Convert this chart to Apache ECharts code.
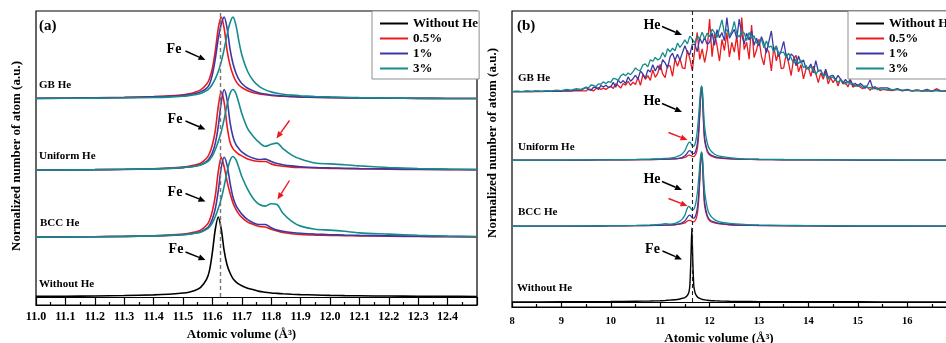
<!DOCTYPE html>
<html><head><meta charset="utf-8">
<script src="https://cdn.jsdelivr.net/npm/echarts@6.0.0/dist/echarts.min.js"></script>
<style>html,body{margin:0;padding:0;background:#fff}#c{width:946px;height:343px}</style>
</head><body><div id="c"></div>
<script>
// ---------- Panel (a) data ----------
const X_A = [11.0, 11.1, 11.2, 11.3, 11.4, 11.45, 11.5, 11.52, 11.54, 11.56,
  11.58, 11.59, 11.6, 11.61, 11.62, 11.63, 11.64, 11.65, 11.66, 11.67,
  11.68, 11.69, 11.7, 11.72, 11.74, 11.76, 11.78, 11.8, 11.82, 11.84,
  11.87, 11.9, 11.95, 12.0, 12.05, 12.1, 12.2, 12.3, 12.4, 12.5];
const A_NONE = [0.008, 0.01, 0.013, 0.018, 0.027, 0.035, 0.05, 0.06, 0.08, 0.12,
  0.22, 0.33, 0.56, 0.85, 1.0, 0.85, 0.58, 0.4, 0.3, 0.23,
  0.19, 0.16, 0.14, 0.11, 0.09, 0.07, 0.06, 0.05, 0.045, 0.04,
  0.034, 0.03, 0.025, 0.02, 0.017, 0.015, 0.012, 0.01, 0.008, 0.007];
const A_GB_R = [0.005, 0.008, 0.012, 0.017, 0.027, 0.035, 0.05, 0.06, 0.08, 0.11,
  0.18, 0.25, 0.38, 0.6, 0.88, 1.02, 0.88, 0.6, 0.42, 0.3,
  0.22, 0.17, 0.14, 0.1, 0.075, 0.06, 0.05, 0.04, 0.034, 0.03,
  0.025, 0.02, 0.016, 0.013, 0.01, 0.009, 0.006, 0.004, 0.003, 0.002];
const A_GB_B = [0.004, 0.006, 0.009, 0.014, 0.022, 0.028, 0.04, 0.048, 0.062, 0.085,
  0.13, 0.18, 0.3, 0.5, 0.75, 0.93, 1.02, 0.88, 0.62, 0.44,
  0.32, 0.24, 0.19, 0.13, 0.095, 0.072, 0.058, 0.047, 0.039, 0.033,
  0.027, 0.022, 0.017, 0.014, 0.011, 0.009, 0.006, 0.004, 0.003, 0.002];
const A_GB_T = [0.003, 0.005, 0.007, 0.01, 0.015, 0.02, 0.03, 0.038, 0.05, 0.065,
  0.1, 0.13, 0.18, 0.25, 0.34, 0.46, 0.62, 0.8, 0.95, 1.02,
  0.92, 0.72, 0.55, 0.34, 0.22, 0.15, 0.11, 0.085, 0.068, 0.056,
  0.045, 0.037, 0.028, 0.022, 0.017, 0.013, 0.008, 0.005, 0.003, 0.002];
const A_UN_R = [0.003, 0.005, 0.008, 0.012, 0.02, 0.028, 0.04, 0.05, 0.065, 0.09,
  0.15, 0.21, 0.32, 0.5, 0.8, 0.98, 0.85, 0.55, 0.35, 0.27,
  0.23, 0.2, 0.18, 0.14, 0.12, 0.11, 0.11, 0.08, 0.06, 0.05,
  0.04, 0.035, 0.028, 0.024, 0.02, 0.018, 0.014, 0.01, 0.008, 0.006];
const A_UN_B = [0.003, 0.004, 0.007, 0.01, 0.017, 0.023, 0.033, 0.04, 0.05, 0.07,
  0.11, 0.15, 0.22, 0.34, 0.55, 0.85, 1.01, 0.88, 0.6, 0.42,
  0.32, 0.27, 0.23, 0.18, 0.15, 0.135, 0.14, 0.11, 0.085, 0.07,
  0.055, 0.045, 0.035, 0.03, 0.026, 0.022, 0.017, 0.013, 0.01, 0.008];
const A_UN_T = [0.003, 0.005, 0.008, 0.012, 0.018, 0.024, 0.033, 0.04, 0.05, 0.065,
  0.1, 0.13, 0.18, 0.26, 0.36, 0.48, 0.64, 0.82, 0.96, 1.01,
  0.96, 0.84, 0.71, 0.52, 0.42, 0.345, 0.3, 0.325, 0.34, 0.27,
  0.19, 0.14, 0.09, 0.08, 0.07, 0.055, 0.035, 0.022, 0.015, 0.01];
const A_BCC_R = [0.003, 0.005, 0.008, 0.012, 0.02, 0.028, 0.04, 0.05, 0.065, 0.09,
  0.15, 0.21, 0.33, 0.52, 0.82, 1.0, 0.88, 0.7, 0.55, 0.43,
  0.35, 0.29, 0.25, 0.19, 0.16, 0.135, 0.13, 0.1, 0.08, 0.06,
  0.045, 0.035, 0.028, 0.024, 0.02, 0.018, 0.014, 0.01, 0.008, 0.006];
const A_BCC_B = [0.003, 0.004, 0.007, 0.01, 0.017, 0.023, 0.033, 0.04, 0.05, 0.07,
  0.11, 0.15, 0.23, 0.36, 0.58, 0.87, 1.0, 0.9, 0.68, 0.5,
  0.4, 0.34, 0.29, 0.22, 0.18, 0.16, 0.16, 0.12, 0.09, 0.075,
  0.06, 0.05, 0.04, 0.033, 0.028, 0.024, 0.018, 0.013, 0.01, 0.008];
const A_BCC_T = [0.003, 0.005, 0.008, 0.012, 0.018, 0.024, 0.033, 0.04, 0.05, 0.065,
  0.1, 0.13, 0.18, 0.26, 0.36, 0.48, 0.64, 0.82, 0.96, 1.01,
  0.97, 0.87, 0.76, 0.6, 0.48, 0.41, 0.39, 0.42, 0.41, 0.3,
  0.2, 0.14, 0.1, 0.09, 0.075, 0.055, 0.04, 0.025, 0.015, 0.01];
// vertical offsets of the stacked groups: Without He, BCC He, Uniform He, GB He
const OFFSETS_A = [0, 0.746, 1.584, 2.479];

// ---------- Panel (b) data ----------
const X_B = [8.0, 9.0, 9.5, 10.0, 10.5, 10.8, 11.0, 11.1, 11.2, 11.3,
  11.4, 11.45, 11.5, 11.52, 11.54, 11.56, 11.58, 11.6, 11.62, 11.64,
  11.66, 11.68, 11.7, 11.72, 11.74, 11.76, 11.78, 11.8, 11.82, 11.84,
  11.86, 11.88, 11.9, 11.95, 12.0, 12.1, 12.2, 12.4, 12.7, 13.0,
  13.5, 14.0, 15.0, 16.0, 17.0, 18.0];
const B_NONE = [0, 0.002, 0.004, 0.006, 0.01, 0.013, 0.016, 0.02, 0.025, 0.03,
  0.04, 0.05, 0.06, 0.07, 0.08, 0.1, 0.13, 0.22, 0.55, 1.0,
  0.55, 0.22, 0.14, 0.1, 0.08, 0.065, 0.055, 0.048, 0.042, 0.038,
  0.034, 0.031, 0.028, 0.024, 0.02, 0.016, 0.013, 0.01, 0.007, 0.005,
  0.004, 0.003, 0.002, 0.001, 0.001, 0];
const B_UN_R = [0, 0.002, 0.003, 0.005, 0.007, 0.009, 0.011, 0.013, 0.015, 0.018,
  0.025, 0.03, 0.038, 0.045, 0.055, 0.065, 0.07, 0.07, 0.065, 0.055,
  0.05, 0.05, 0.06, 0.08, 0.12, 0.2, 0.35, 0.6, 0.88, 1.0,
  0.78, 0.45, 0.26, 0.12, 0.07, 0.04, 0.03, 0.02, 0.013, 0.01,
  0.007, 0.005, 0.003, 0.002, 0.001, 0];
const B_UN_B = [0, 0.002, 0.003, 0.005, 0.008, 0.01, 0.012, 0.014, 0.017, 0.02,
  0.03, 0.04, 0.06, 0.075, 0.09, 0.11, 0.125, 0.13, 0.12, 0.1,
  0.09, 0.09, 0.1, 0.13, 0.18, 0.27, 0.42, 0.65, 0.9, 1.0,
  0.82, 0.5, 0.3, 0.14, 0.085, 0.05, 0.035, 0.022, 0.014, 0.01,
  0.007, 0.005, 0.003, 0.002, 0.001, 0];
const B_UN_T = [0, 0.003, 0.005, 0.008, 0.012, 0.016, 0.02, 0.025, 0.03, 0.04,
  0.065, 0.09, 0.13, 0.16, 0.19, 0.22, 0.24, 0.245, 0.23, 0.2,
  0.19, 0.19, 0.21, 0.26, 0.34, 0.46, 0.62, 0.8, 0.95, 1.0,
  0.9, 0.65, 0.45, 0.24, 0.15, 0.08, 0.055, 0.035, 0.02, 0.015,
  0.01, 0.008, 0.005, 0.003, 0.002, 0.001];
const B_BCC_R = [0, 0.002, 0.003, 0.005, 0.008, 0.01, 0.013, 0.015, 0.017, 0.02,
  0.028, 0.035, 0.045, 0.055, 0.065, 0.075, 0.08, 0.08, 0.075, 0.065,
  0.06, 0.06, 0.07, 0.09, 0.13, 0.21, 0.36, 0.6, 0.88, 1.0,
  0.8, 0.47, 0.27, 0.13, 0.075, 0.045, 0.032, 0.02, 0.013, 0.01,
  0.007, 0.005, 0.003, 0.002, 0.001, 0];
const B_BCC_B = [0, 0.002, 0.003, 0.005, 0.008, 0.011, 0.014, 0.016, 0.019, 0.024,
  0.035, 0.05, 0.07, 0.09, 0.11, 0.13, 0.145, 0.15, 0.14, 0.12,
  0.11, 0.11, 0.12, 0.15, 0.2, 0.29, 0.44, 0.66, 0.9, 1.0,
  0.83, 0.52, 0.32, 0.15, 0.09, 0.055, 0.038, 0.024, 0.015, 0.011,
  0.008, 0.005, 0.003, 0.002, 0.001, 0];
const B_BCC_T = [0, 0.003, 0.005, 0.008, 0.012, 0.018, 0.025, 0.035, 0.03, 0.04,
  0.07, 0.1, 0.15, 0.19, 0.23, 0.26, 0.27, 0.26, 0.24, 0.225,
  0.22, 0.23, 0.26, 0.31, 0.39, 0.5, 0.65, 0.82, 0.96, 1.0,
  0.9, 0.66, 0.47, 0.26, 0.16, 0.09, 0.06, 0.04, 0.025, 0.018,
  0.012, 0.009, 0.006, 0.004, 0.002, 0.001];

// GB He in panel (b): broad noisy distribution
const X_B_GB = [8.0, 8.1, 8.2, 8.3, 8.4, 8.5, 8.6, 8.7, 8.8, 8.9, 9.0, 9.1, 9.2, 9.3, 9.4,
  9.5, 9.55, 9.6, 9.65, 9.7, 9.75, 9.8, 9.85, 9.9, 9.95,
  10.0, 10.05, 10.1, 10.15, 10.2, 10.25, 10.3, 10.35, 10.4, 10.45,
  10.5, 10.55, 10.6, 10.65, 10.7, 10.75, 10.8, 10.85, 10.9, 10.95,
  11.0, 11.05, 11.1, 11.15, 11.2, 11.25, 11.3, 11.35, 11.4, 11.45,
  11.5, 11.55, 11.6, 11.65, 11.7, 11.75, 11.8, 11.85, 11.9, 11.95,
  12.0, 12.05, 12.1, 12.15, 12.2, 12.25, 12.3, 12.35, 12.4, 12.45,
  12.5, 12.55, 12.6, 12.65, 12.7, 12.75, 12.8, 12.85, 12.9, 12.95,
  13.0, 13.05, 13.1, 13.15, 13.2, 13.25, 13.3, 13.35, 13.4, 13.45,
  13.5, 13.55, 13.6, 13.65, 13.7, 13.75, 13.8, 13.85, 13.9, 13.95,
  14.0, 14.05, 14.1, 14.15, 14.2, 14.25, 14.3, 14.35, 14.4, 14.45,
  14.5, 14.55, 14.6, 14.65, 14.7, 14.75, 14.8, 14.85, 14.9, 14.95,
  15.0, 15.05, 15.1, 15.15, 15.2, 15.25, 15.3, 15.35, 15.4, 15.45,
  15.5, 15.6, 15.7, 15.8, 15.9, 16.0, 16.1, 16.2, 16.3, 16.4, 16.5, 16.6, 16.7, 16.8, 16.9, 17.0];
const B_GB_T = [0, 0.005, 0, 0.01, 0.005, 0.01, 0.005, 0.015, 0.01, 0.02, 0.015, 0.03, 0.02, 0.04, 0.03,
  0.062, 0.052, 0.09, 0.084, 0.069, 0.105, 0.101, 0.133, 0.108, 0.136,
  0.125, 0.179, 0.173, 0.153, 0.213, 0.24, 0.216, 0.252, 0.229, 0.271,
  0.32, 0.291, 0.288, 0.363, 0.374, 0.335, 0.431, 0.41, 0.462, 0.427,
  0.453, 0.529, 0.466, 0.58, 0.539, 0.587, 0.552, 0.655, 0.598, 0.646,
  0.699, 0.644, 0.75, 0.708, 0.658, 0.753, 0.717, 0.804, 0.716, 0.79,
  0.742, 0.845, 0.798, 0.732, 0.85, 0.97, 0.787, 0.84, 0.752, 0.815,
  0.95, 0.78, 0.737, 0.818, 0.793, 0.692, 0.8, 0.722, 0.755, 0.657,
  0.66, 0.706, 0.593, 0.684, 0.603, 0.616, 0.531, 0.62, 0.509, 0.527,
  0.533, 0.458, 0.52, 0.456, 0.386, 0.438, 0.379, 0.425, 0.322, 0.357,
  0.297, 0.341, 0.295, 0.234, 0.287, 0.29, 0.216, 0.233, 0.168, 0.194,
  0.197, 0.154, 0.129, 0.155, 0.139, 0.098, 0.139, 0.102, 0.113, 0.075,
  0.074, 0.089, 0.054, 0.078, 0.053, 0.058, 0.033, 0.065, 0.032, 0.037,
  0.035, 0.03, 0.025, 0.03, 0.02, 0.02, 0.015, 0.02, 0.01, 0.015, 0.01, 0.01, 0.008, 0.01, 0.005, 0.005];
const B_GB_B = [0, 0.003, 0, 0.005, 0.002, 0.006, 0.003, 0.008, 0.004, 0.01, 0.008, 0.015, 0.01, 0.025, 0.02,
  0.057, 0.029, 0.019, 0.06, 0.059, 0.028, 0.084, 0.062, 0.088, 0.06,
  0.065, 0.125, 0.06, 0.155, 0.115, 0.15, 0.11, 0.2, 0.14, 0.175,
  0.222, 0.167, 0.28, 0.239, 0.184, 0.295, 0.266, 0.363, 0.278, 0.351,
  0.295, 0.432, 0.389, 0.319, 0.469, 0.52, 0.423, 0.506, 0.427, 0.528,
  0.62, 0.53, 0.5, 0.64, 0.64, 0.54, 0.725, 0.65, 0.735, 0.64,
  0.664, 0.794, 0.624, 0.838, 0.728, 0.798, 0.688, 1.0, 0.722, 0.782,
  0.842, 0.717, 0.98, 0.774, 0.644, 0.79, 0.696, 0.818, 0.628, 0.721,
  0.615, 0.743, 0.651, 0.526, 0.676, 0.82, 0.547, 0.609, 0.473, 0.557,
  0.68, 0.482, 0.422, 0.51, 0.477, 0.349, 0.482, 0.386, 0.429, 0.315,
  0.319, 0.374, 0.254, 0.42, 0.273, 0.293, 0.208, 0.305, 0.192, 0.212,
  0.22, 0.16, 0.22, 0.17, 0.11, 0.165, 0.12, 0.165, 0.08, 0.115,
  0.072, 0.113, 0.084, 0.043, 0.091, 0.16, 0.049, 0.069, 0.025, 0.052,
  0.05, 0.05, 0.02, 0.04, 0.015, 0.03, 0.01, 0.025, 0.01, 0.03, 0.008, 0.02, 0.005, 0.015, 0.005, 0.005];
const B_GB_R = [0, 0.002, 0, 0.003, 0.001, 0.004, 0.002, 0.005, 0.003, 0.006, 0.004, 0.01, 0.006, 0.015, 0.01,
  0.01, 0.038, 0.027, 0.01, 0.042, 0.053, 0.03, 0.048, 0.031, 0.054,
  0.074, 0.044, 0.105, 0.083, 0.048, 0.11, 0.087, 0.141, 0.086, 0.127,
  0.096, 0.191, 0.086, 0.232, 0.167, 0.217, 0.152, 0.295, 0.193, 0.248,
  0.367, 0.239, 0.189, 0.36, 0.349, 0.208, 0.444, 0.342, 0.448, 0.32,
  0.31, 0.559, 0.448, 0.283, 0.568, 0.8, 0.436, 0.577, 0.394, 0.571,
  0.98, 0.472, 0.79, 0.624, 0.414, 0.705, 0.556, 0.798, 0.468, 0.666,
  0.534, 0.754, 0.424, 1.0, 0.568, 0.668, 0.438, 0.9, 0.462, 0.562,
  0.71, 0.475, 0.36, 0.59, 0.535, 0.28, 0.61, 0.415, 0.54, 0.31,
  0.32, 0.513, 0.386, 0.216, 0.441, 0.49, 0.267, 0.364, 0.173, 0.302,
  0.326, 0.206, 0.345, 0.247, 0.122, 0.255, 0.168, 0.279, 0.104, 0.188,
  0.122, 0.177, 0.077, 0.174, 0.104, 0.129, 0.064, 0.15, 0.061, 0.081,
  0.097, 0.059, 0.039, 0.07, 0.059, 0.018, 0.064, 0.037, 0.053, 0.015,
  0.03, 0.02, 0.015, 0.03, 0.01, 0.02, 0.008, 0.015, 0.006, 0.01, 0.005, 0.04, 0.004, 0.008, 0.003, 0.003];
const OFFSETS_B = [0, 1.023, 1.915, 2.842];

const LEGEND_NAMES = ['Without He', '0.5%', '1%', '3%'];
const GROUP_LABELS = ['Without He', 'BCC He', 'Uniform He', 'GB He'];
const X_TICKS_A = {min: 11.0, max: 12.5, step: 0.1};
const X_TICKS_B = {min: 8, max: 18, step: 1};
const FE_LINE_A = 11.625, FE_LINE_B = 11.64;

// ---------- Rendering ----------
const FONT = '"Liberation Serif", "Times New Roman", serif';
const C = {k: '#000000', r: '#ea1a1f', b: '#3b3aa4', t: '#168b8b'};
const pairs = (xs, ys, off) => xs.map((x, i) => [x, +(ys[i] + off).toFixed(4)]);

function ser(name, idx, xs, ys, off, color, w, smooth, extra) {
  return Object.assign({
    type: 'line', name, xAxisIndex: idx, yAxisIndex: idx,
    data: pairs(xs, ys, off), symbol: 'none', smooth: smooth,
    lineStyle: {color, width: w}, itemStyle: {color}, silent: true, animation: false
  }, extra || {});
}

const series = [];
// panel (a)
series.push(ser('Without He', 0, X_A, A_NONE, OFFSETS_A[0], C.k, 1.6, 0.3, {
  markLine: {silent: true, symbol: ['none', 'none'], label: {show: false}, animation: false,
    data: [
      [{coord: [FE_LINE_A, 0], lineStyle: {color: '#777', type: [4, 3], width: 1.4}}, {coord: [FE_LINE_A, 3.575]}],
      [{coord: [X_TICKS_A.min, 0], lineStyle: {color: '#000', type: 'solid', width: 1.2}}, {coord: [X_TICKS_A.max, 0]}]
    ]}
}));
const grpA = [[A_BCC_R, A_BCC_B, A_BCC_T], [A_UN_R, A_UN_B, A_UN_T], [A_GB_R, A_GB_B, A_GB_T]];
const cols = [C.r, C.b, C.t];
for (let s = 0; s < 3; s++) for (let g = 0; g < 3; g++)
  series.push(ser(LEGEND_NAMES[s + 1], 0, X_A, grpA[g][s], OFFSETS_A[g + 1], cols[s], 1.6, 0.3));
// panel (b)
series.push(ser('Without He', 1, X_B, B_NONE, OFFSETS_B[0], C.k, 1.4, 0.2, {
  markLine: {silent: true, symbol: ['none', 'none'], label: {show: false}, animation: false,
    data: [
      [{coord: [FE_LINE_B, 0], lineStyle: {color: '#222', type: [4, 3], width: 1.1}}, {coord: [FE_LINE_B, 3.932]}],
      [{coord: [X_TICKS_B.min, 0], lineStyle: {color: '#000', type: 'solid', width: 1.2}}, {coord: [X_TICKS_B.max, 0]}]
    ]}
}));
const grpB = [[B_BCC_R, B_BCC_B, B_BCC_T], [B_UN_R, B_UN_B, B_UN_T]];
const gbB = [B_GB_R, B_GB_B, B_GB_T];
for (let s = 0; s < 3; s++) {
  for (let g = 0; g < 2; g++)
    series.push(ser(LEGEND_NAMES[s + 1], 1, X_B, grpB[g][s], OFFSETS_B[g + 1], cols[s], 1.3, 0.2));
  series.push(ser(LEGEND_NAMES[s + 1], 1, X_B_GB, gbB[s], OFFSETS_B[3], cols[s], 1.3, false));
}

const boldTxt = (size) => ({fontFamily: FONT, fontWeight: 'bold', fontSize: size, color: '#000'});

function legendAt(left) {
  return {
    left, top: 11, orient: 'vertical', data: LEGEND_NAMES, selectedMode: false,
    icon: 'rect', itemWidth: 28, itemHeight: 2, itemGap: 2, padding: [6, 1, 4, 8],
    borderColor: '#8f8f8f', borderWidth: 1, backgroundColor: '#fff',
    textStyle: boldTxt(13), z: 10
  };
}

function txt(x, y, s, size, align) {
  return {type: 'text', x, y, z: 20, silent: true,
    style: {text: s, fontFamily: FONT, fontWeight: 'bold', fontSize: size, fill: '#000',
      align: align || 'left', verticalAlign: 'middle'}};
}
function arrow(x1, y1, x2, y2, color) {
  const a = Math.atan2(y2 - y1, x2 - x1), L = 7, W = 3;
  const bx = x2 - L * Math.cos(a), by = y2 - L * Math.sin(a);
  const px = -Math.sin(a) * W, py = Math.cos(a) * W;
  return [
    {type: 'line', z: 20, silent: true, shape: {x1, y1, x2: bx, y2: by}, style: {stroke: color, lineWidth: 1.4}},
    {type: 'polygon', z: 20, silent: true, shape: {points: [[x2, y2], [bx + px, by + py], [bx - px, by - py]]}, style: {fill: color}}
  ];
}

const graphics = [
  txt(39, 26, '(a)', 15), txt(517, 26, '(b)', 15),
  txt(39, 85.5, GROUP_LABELS[3], 11), txt(39, 156, GROUP_LABELS[2], 11),
  txt(40, 223.5, GROUP_LABELS[1], 11), txt(39, 284.5, GROUP_LABELS[0], 11),
  txt(518, 78, GROUP_LABELS[3], 11), txt(518, 147, GROUP_LABELS[2], 11),
  txt(518, 212, GROUP_LABELS[1], 11), txt(517, 288.5, GROUP_LABELS[0], 11),
  txt(174, 49, 'Fe', 14, 'center'), txt(175, 119.5, 'Fe', 14, 'center'),
  txt(175, 192.5, 'Fe', 14, 'center'), txt(176, 249, 'Fe', 14, 'center'),
  txt(652, 25, 'He', 14, 'center'), txt(652, 101.5, 'He', 14, 'center'),
  txt(652, 179, 'He', 14, 'center'), txt(652.5, 249.5, 'Fe', 14, 'center')
].concat(
  arrow(185.5, 51, 205.5, 60, '#000'), arrow(185.5, 121, 205.5, 129.5, '#000'),
  arrow(185.5, 193.5, 205.5, 201.5, '#000'), arrow(185.5, 252, 205.5, 260, '#000'),
  arrow(662, 26.5, 682, 35, '#000'), arrow(662, 103.5, 682, 112, '#000'),
  arrow(662, 181.5, 682, 190, '#000'), arrow(662.5, 251, 682, 259.5, '#000'),
  arrow(289.5, 120.5, 276.5, 138.5, '#ea1a1f'), arrow(289.5, 180.5, 277.5, 199.5, '#ea1a1f'),
  arrow(668.5, 132.5, 687.5, 140, '#ea1a1f'), arrow(668.5, 198.5, 687.5, 206, '#ea1a1f')
);

const option = {
  backgroundColor: '#fff',
  animation: false,
  grid: [
    {left: 36, top: 11, width: 441, height: 294, show: true, borderColor: '#000', borderWidth: 1.2,
      backgroundColor: 'transparent', containLabel: false, outerBoundsMode: 'none'},
    {left: 512, top: 11, width: 494, height: 296, show: true, borderColor: '#000', borderWidth: 1.2,
      backgroundColor: 'transparent', containLabel: false, outerBoundsMode: 'none'}
  ],
  xAxis: [
    {type: 'value', gridIndex: 0, min: X_TICKS_A.min, max: X_TICKS_A.max, interval: X_TICKS_A.step,
      axisLine: {show: true, onZero: false, lineStyle: {color: '#000', width: 1.2}},
      axisTick: {show: true, inside: true, length: 8, lineStyle: {color: '#000', width: 1.2}},
      minorTick: {show: true, splitNumber: 2, length: 3, lineStyle: {color: '#000', width: 1.2}},
      splitLine: {show: false},
      axisLabel: Object.assign(boldTxt(12), {margin: 6, showMaxLabel: true, showMinLabel: true,
        formatter: v => (v > 12.45 ? '' : v.toFixed(1))}),
      name: 'Atomic volume (Å³)', nameLocation: 'middle', nameGap: 23,
      nameTextStyle: Object.assign(boldTxt(13), {padding: [0, 30, 0, 0]})},
    {type: 'value', gridIndex: 1, min: X_TICKS_B.min, max: X_TICKS_B.max, interval: X_TICKS_B.step,
      axisLine: {show: true, onZero: false, lineStyle: {color: '#000', width: 1.2}},
      axisTick: {show: true, inside: true, length: 5, lineStyle: {color: '#000', width: 1.2}},
      minorTick: {show: true, splitNumber: 2, length: 3, lineStyle: {color: '#000', width: 1.2}},
      splitLine: {show: false},
      axisLabel: Object.assign(boldTxt(10.5), {margin: 9, formatter: v => String(v)}),
      name: 'Atomic volume (Å³)', nameLocation: 'middle', nameGap: 24,
      nameTextStyle: Object.assign(boldTxt(13), {padding: [0, 80, 0, 0]})}
  ],
  yAxis: [
    {type: 'value', gridIndex: 0, min: -0.1, max: 3.575,
      axisLine: {show: false}, axisTick: {show: false}, axisLabel: {show: false}, splitLine: {show: false},
      name: 'Normalized number of atom (a.u.)', nameLocation: 'middle', nameGap: 13,
      nameTextStyle: Object.assign(boldTxt(13), {padding: [0, 0, 0, 4]})},
    {type: 'value', gridIndex: 1, min: -0.068, max: 3.932,
      axisLine: {show: false}, axisTick: {show: false}, axisLabel: {show: false}, splitLine: {show: false},
      name: 'Normalized number of atom (a.u.)', nameLocation: 'middle', nameGap: 13,
      nameTextStyle: Object.assign(boldTxt(13), {padding: [0, 0, 0, 32]})}
  ],
  legend: [legendAt(372), legendAt(848)],
  series,
  graphic: graphics
};

const chart = echarts.init(document.getElementById('c'), null, {renderer: 'canvas'});
chart.setOption(option);
</script>
</body></html>
